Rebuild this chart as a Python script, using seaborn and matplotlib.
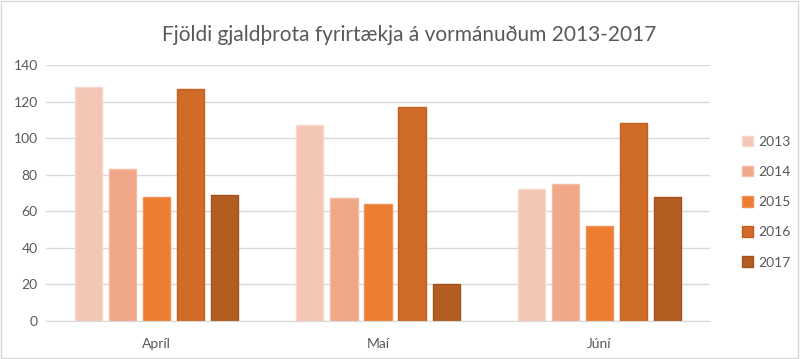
import numpy as np
import pandas as pd
import seaborn as sns
import matplotlib.pyplot as plt
from matplotlib.patches import Patch

# data
months = ['Apríl', 'Maí', 'Júní']
years = ['2013', '2014', '2015', '2016', '2017']
y2013 = [128, 107, 72]
y2014 = [83, 67, 75]
y2015 = [68, 64, 52]
y2016 = [127, 117, 108]
y2017 = [69, 20, 68]

colors = ['#F4C6B5', '#F0A788', '#ED7D31', '#D06B28', '#B25E22']
edges = ['#F8D8CB', '#F4BCA4', '#F09257', '#C2601F', '#A4521B']

rows = []
for yr, vals in zip(years, [y2013, y2014, y2015, y2016, y2017]):
    for m, v in zip(months, vals):
        rows.append({'Mánuður': m, 'Ár': yr, 'Fjöldi': v})
df = pd.DataFrame(rows)

sns.set_style('white')
plt.rcParams['font.family'] = ['Lato', 'DejaVu Sans']

fig = plt.figure(figsize=(8, 3.59), dpi=100)
ax = fig.add_axes([0.0575, 0.106, 0.83, 0.713])

sns.barplot(data=df, x='Mánuður', y='Fjöldi', hue='Ár', order=months,
            hue_order=years, palette=colors, saturation=1, width=0.77, gap=0.2,
            linewidth=1, ax=ax, legend=False)

# edge colours per series
for cont, ec in zip(ax.containers, edges):
    for bar in cont:
        bar.set_edgecolor(ec)

ax.set_ylim(0, 140)
ax.set_yticks(np.arange(0, 141, 20))
ax.set_xlim(-0.5, 2.5)
ax.yaxis.grid(True, color='#D9D9D9', linewidth=1)
ax.set_axisbelow(True)
for s in ['top', 'right', 'left']:
    ax.spines[s].set_visible(False)
ax.spines['bottom'].set_color('#D9D9D9')
ax.tick_params(axis='y', length=0, labelsize=10, labelcolor='#595959', pad=6)
ax.tick_params(axis='x', length=0, labelsize=10, labelcolor='#595959', pad=12)
ax.set_xlabel('')
ax.set_ylabel('')

fig.text(0.512, 0.902, 'Fjöldi gjaldþrota fyrirtækja á vormánuðum 2013-2017',
         ha='center', va='center', fontsize=15, color='#595959')

handles = [Patch(facecolor=c, edgecolor=e) for c, e in zip(colors, edges)]
fig.legend(handles, years, loc='center left', bbox_to_anchor=(0.912, 0.437),
           frameon=False, fontsize=10, labelcolor='#595959',
           handlelength=0.8, handleheight=0.8, handletextpad=0.4,
           labelspacing=1.3)

# thin frame round the chart area
fig.patches.append(plt.Rectangle((0.001, 0.002), 0.997, 0.995, transform=fig.transFigure,
                                 fill=False, edgecolor='#D9D9D9', linewidth=1))

fig.savefig('out.png', dpi=100)
